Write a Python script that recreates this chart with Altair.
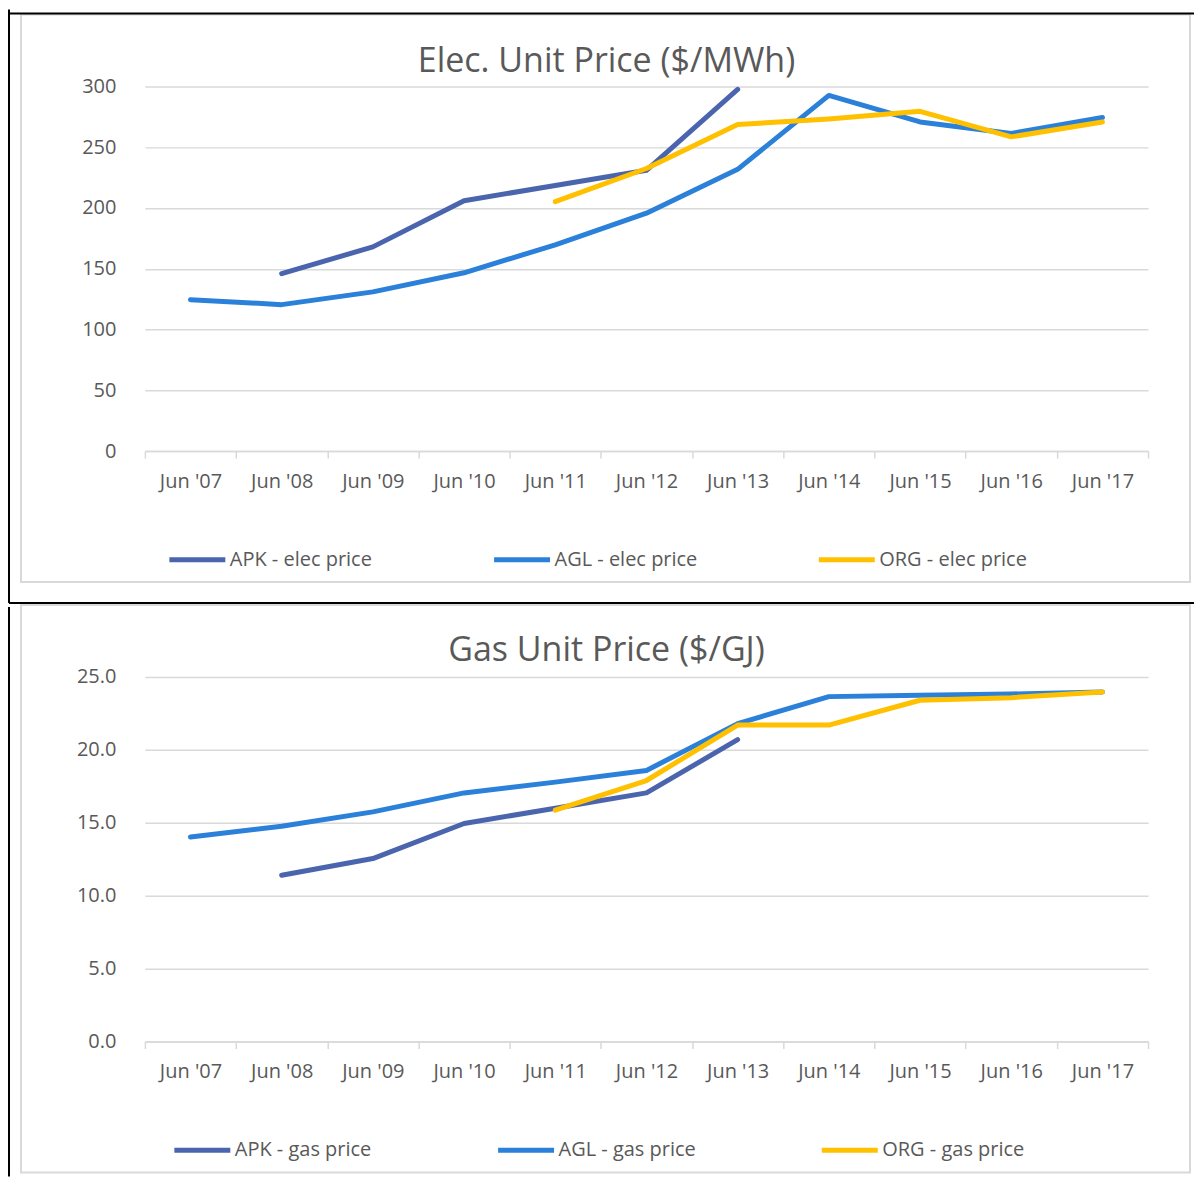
import altair as alt
import pandas as pd

categories = ["Jun '07", "Jun '08", "Jun '09", "Jun '10", "Jun '11", "Jun '12",
              "Jun '13", "Jun '14", "Jun '15", "Jun '16", "Jun '17"]

apk_elec = [None, 146, 168, 206, 218.5, 231, 297.5, None, None, None, None]
agl_elec = [124.6, 120.5, 131, 146.7, 169.7, 195.7, 231.8, 292.6, 270.8, 261.3, 274.4]
org_elec = [None, None, None, None, 205.2, 232.5, 268.6, 273.3, 279.5, 258.5, 270.8]

apk_gas = [None, 11.4, 12.55, 14.95, 16.0, 17.05, 20.7, None, None, None, None]
agl_gas = [14.03, 14.77, 15.75, 17.05, 17.79, 18.59, 21.8, 23.65, 23.74, 23.83, 23.97]
org_gas = [None, None, None, None, 15.87, 17.9, 21.7, 21.7, 23.4, 23.58, 23.97]

elec_series = ["APK - elec price", "AGL - elec price", "ORG - elec price"]
gas_series = ["APK - gas price", "AGL - gas price", "ORG - gas price"]
colors = ["#4A64AE", "#2B80D9", "#FFC000"]

elec_ticks = [0, 50, 100, 150, 200, 250, 300]
gas_ticks = [0, 5, 10, 15, 20, 25]

FONT = "Open Sans"
GREY = "#595959"
GRID = "#D9D9D9"

W = 1004
H = 365


def long_df(names, arrays):
    rows = []
    for order, (name, arr) in enumerate(zip(names, arrays)):
        for cat, v in zip(categories, arr):
            if v is not None:
                rows.append({"period": cat, "series": name, "value": v, "order": order})
    return pd.DataFrame(rows)


def panel(title, names, arrays, ticks, ymax, fmt, is_top, leg_x, leg_pad, title_y):
    df = long_df(names, arrays)
    lines = alt.Chart(df).mark_line(strokeWidth=5, strokeCap="round", strokeJoin="round").encode(
        x=alt.X("period:N", sort=categories,
                scale=alt.Scale(paddingInner=0, paddingOuter=0),
                axis=alt.Axis(title=None, labelAngle=0, tickBand="extent", tickSize=7,
                              tickColor=GRID, tickWidth=1.5, domainColor=GRID, domainWidth=1.5,
                              labelFont=FONT, labelFontSize=20, labelColor=GREY,
                              labelPadding=13, grid=False)),
        y=alt.Y("value:Q", scale=alt.Scale(domain=[0, ymax], nice=False, zero=True),
                axis=alt.Axis(title=None, values=ticks, format=fmt, domain=False, ticks=False,
                              grid=True, gridColor=GRID, gridWidth=1.5,
                              labelFont=FONT, labelFontSize=20, labelColor=GREY,
                              labelPadding=29)),
        color=alt.Color("series:N", sort=names,
                        scale=alt.Scale(domain=names, range=colors),
                        legend=alt.Legend(title=None, orient="none", direction="horizontal",
                                          legendX=leg_x, legendY=443, columns=3,
                                          gridAlign="all", columnPadding=leg_pad,
                                          symbolType="stroke", symbolSize=3136,
                                          symbolStrokeWidth=5, labelOffset=2,
                                          labelFont=FONT, labelFontSize=20, labelColor=GREY,
                                          labelLimit=300, padding=0)),
        order="order:Q",
        detail="series:N",
    )

    one = alt.Data(values=[{"k": 1}])
    box = alt.Chart(one).mark_rect(fill="white", fillOpacity=0, stroke=GRID, strokeWidth=2).encode(
        x=alt.value(-124), x2=alt.value(1046), y=alt.value(-72), y2=alt.value(496)
    )
    ttl = alt.Chart(one).mark_text(font=FONT, fontSize=34, color=GREY, align="center",
                                   baseline="middle").encode(
        x=alt.value(462), y=alt.value(title_y), text=alt.value(title)
    )
    layers = [box, ttl]
    if is_top:
        vline = alt.Chart(one).mark_rule(color="black", strokeWidth=2).encode(
            x=alt.value(-136), y=alt.value(-77), y2=alt.value(517))
        hline_top = alt.Chart(one).mark_rule(color="black", strokeWidth=2).encode(
            x=alt.value(-136), x2=alt.value(1050), y=alt.value(-73))
        hline_mid = alt.Chart(one).mark_rule(color="black", strokeWidth=2).encode(
            x=alt.value(-136), x2=alt.value(1050), y=alt.value(517))
        layers += [vline, hline_top, hline_mid]
    else:
        vline = alt.Chart(one).mark_rule(color="black", strokeWidth=2).encode(
            x=alt.value(-136), y=alt.value(-70), y2=alt.value(500))
        layers += [vline]
    return alt.layer(*layers, lines).properties(width=W, height=H)


top = panel("Elec. Unit Price ($/MWh)", elec_series, [apk_elec, agl_elec, org_elec],
            elec_ticks, 300, "d", True, 22, 106, -24)
bottom = panel("Gas Unit Price ($/GJ)", gas_series, [apk_gas, agl_gas, org_gas],
               gas_ticks, 25, ".1f", False, 27, 110, -26)

chart = alt.vconcat(top, bottom, spacing=0).resolve_scale(color="independent").configure_view(
    stroke=None
).properties(padding=0, background="white")

chart.save("out.html", embed_options={"renderer": "svg", "actions": False})
